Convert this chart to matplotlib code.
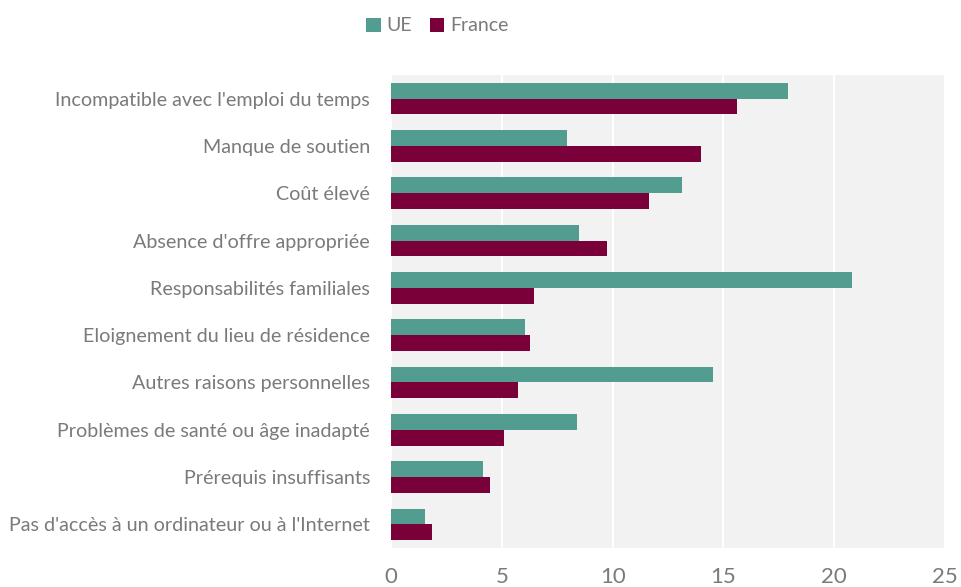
import numpy as np
import matplotlib as mpl
import matplotlib.pyplot as plt

mpl.rc('font', family=['Lato', 'DejaVu Sans'])

categories = [
    "Incompatible avec l'emploi du temps",
    "Manque de soutien",
    "Coût élevé",
    "Absence d'offre appropriée",
    "Responsabilités familiales",
    "Eloignement du lieu de résidence",
    "Autres raisons personnelles",
    "Problèmes de santé ou âge inadapté",
    "Prérequis insuffisants",
    "Pas d'accès à un ordinateur ou à l'Internet",
]
ue = [17.9, 7.95, 13.15, 8.5, 20.8, 6.05, 14.55, 8.4, 4.15, 1.55]
france = [15.6, 14.0, 11.65, 9.75, 6.45, 6.25, 5.75, 5.1, 4.45, 1.85]
xticks = [0, 5, 10, 15, 20, 25]

c_ue = '#529d8f'
c_fr = '#7a0039'
grey = '#7a7a7a'

fig = plt.figure(figsize=(9.61, 5.87), dpi=100)
ax = fig.add_axes((391/961, 39/587, 554/961, 473/587))
ax.set_facecolor('#f2f2f2')

y = np.arange(len(categories))
h = 0.335
ax.barh(y - h/2, ue, height=h, color=c_ue, label='UE', zorder=3)
ax.barh(y + h/2, france, height=h, color=c_fr, label='France', zorder=3)

ax.set_ylim(len(categories) - 0.5, -0.5)
ax.set_xlim(0, 25)
ax.set_xticks(xticks)
ax.set_yticks(y)
ax.set_yticklabels(categories)
ax.grid(axis='x', color='white', linewidth=1.5, zorder=1)
for s in ax.spines.values():
    s.set_visible(False)
ax.tick_params(axis='y', length=0, pad=15, labelsize=14.2, labelcolor=grey)
ax.tick_params(axis='x', length=0, pad=14, labelsize=16, labelcolor=grey)

fig.legend(loc='upper center', bbox_to_anchor=(0.455, 1.0), ncol=2, frameon=False,
           fontsize=14, labelcolor=grey, handlelength=0.75, handleheight=0.75,
           handletextpad=0.3, columnspacing=0.9)

fig.savefig('out.png', dpi=100)
